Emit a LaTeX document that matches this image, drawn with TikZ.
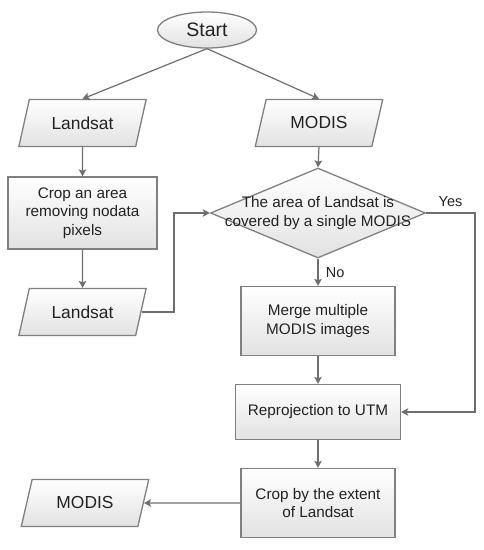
\documentclass[tikz,border=0pt]{standalone}
\usepackage{fontspec}
\setmainfont{Liberation Sans}
\usetikzlibrary{shapes.geometric,arrows.meta}

\definecolor{boxline}{HTML}{808080}
\definecolor{boxshade}{HTML}{E2E2E2}
\definecolor{flowgray}{HTML}{6E6E6E}
\definecolor{inkgray}{HTML}{222222}

\tikzset{
	block/.style={draw=boxline, line width=1.3pt, top color=white, bottom color=boxshade},
	procbox/.style={block, rectangle, font=\fontsize{15.3}{18.5}\selectfont},
	iobox/.style={block, trapezium, trapezium left angle=67, trapezium right angle=113,
		trapezium stretches=true, minimum width=128, minimum height=47, inner sep=1pt,
		font=\fontsize{17.4}{20}\selectfont},
	flow/.style={draw=flowgray, line width=1.2pt, -{Stealth[length=7pt, width=7.5pt, inset=1.5pt]}},
	answer/.style={font=\fontsize{14.5}{17}\selectfont}
}

\begin{document}
\begin{tikzpicture}[x=1pt, y=-1pt, every node/.style={text=inkgray, align=center}]
	\useasboundingbox (0,0) rectangle (483,550);

	\node[block, ellipse, minimum width=99, minimum height=36, inner sep=0pt,
		font=\fontsize{19.5}{22}\selectfont] (start) at (207,30) {Start};

	\node[iobox] (land1) at (82.5,123) {Landsat};
	\node[iobox] (modis1) at (319,123) {MODIS};

	\node[procbox, minimum width=149, minimum height=72] (crop1) at (82.5,213)
		{Crop an area\\removing nodata\\pixels};
	\node[block, diamond, minimum width=215, minimum height=90, inner sep=0pt,
		label={[font=\fontsize{15.3}{18.5}\selectfont, align=center]center:The area of Landsat is\\covered by a single MODIS}]
		(dec) at (318,213) {};

	\node[iobox] (land2) at (82.5,312) {Landsat};
	\node[procbox, minimum width=154, minimum height=69] (merge) at (318,321)
		{Merge multiple\\MODIS images};
	\node[procbox, minimum width=165, minimum height=55] (reproj) at (318,412)
		{Reprojection to UTM};
	\node[procbox, minimum width=154, minimum height=69] (cropext) at (318,503)
		{Crop by the extent\\of Landsat};
	\node[iobox] (modis2) at (85,503) {MODIS};

	\coordinate (jointL) at (174,213);
	\coordinate (jointR) at (475,213);

	\draw[flow] (start.south) -- (land1.north);
	\draw[flow] (start.south) -- (modis1.north);
	\draw[flow] (land1.south) -- (crop1.north);
	\draw[flow] (crop1.south) -- (land2.north);
	\draw[flow] (modis1.south) -- (dec.north);
	\draw[flow] (land2.east) -| (jointL) -- (dec.west);
	\draw[flow] (dec.south) -- node[answer, right, xshift=4pt] (no) {No} (merge.north);
	\draw[flow] (dec.east) -- node[answer, above, yshift=2pt] (yes) {Yes} (jointR) |- (reproj.east);
	\draw[flow] (merge.south) -- (reproj.north);
	\draw[flow] (reproj.south) -- (cropext.north);
	\draw[flow] (cropext.west) -- (modis2.east);
\end{tikzpicture}
\end{document}
